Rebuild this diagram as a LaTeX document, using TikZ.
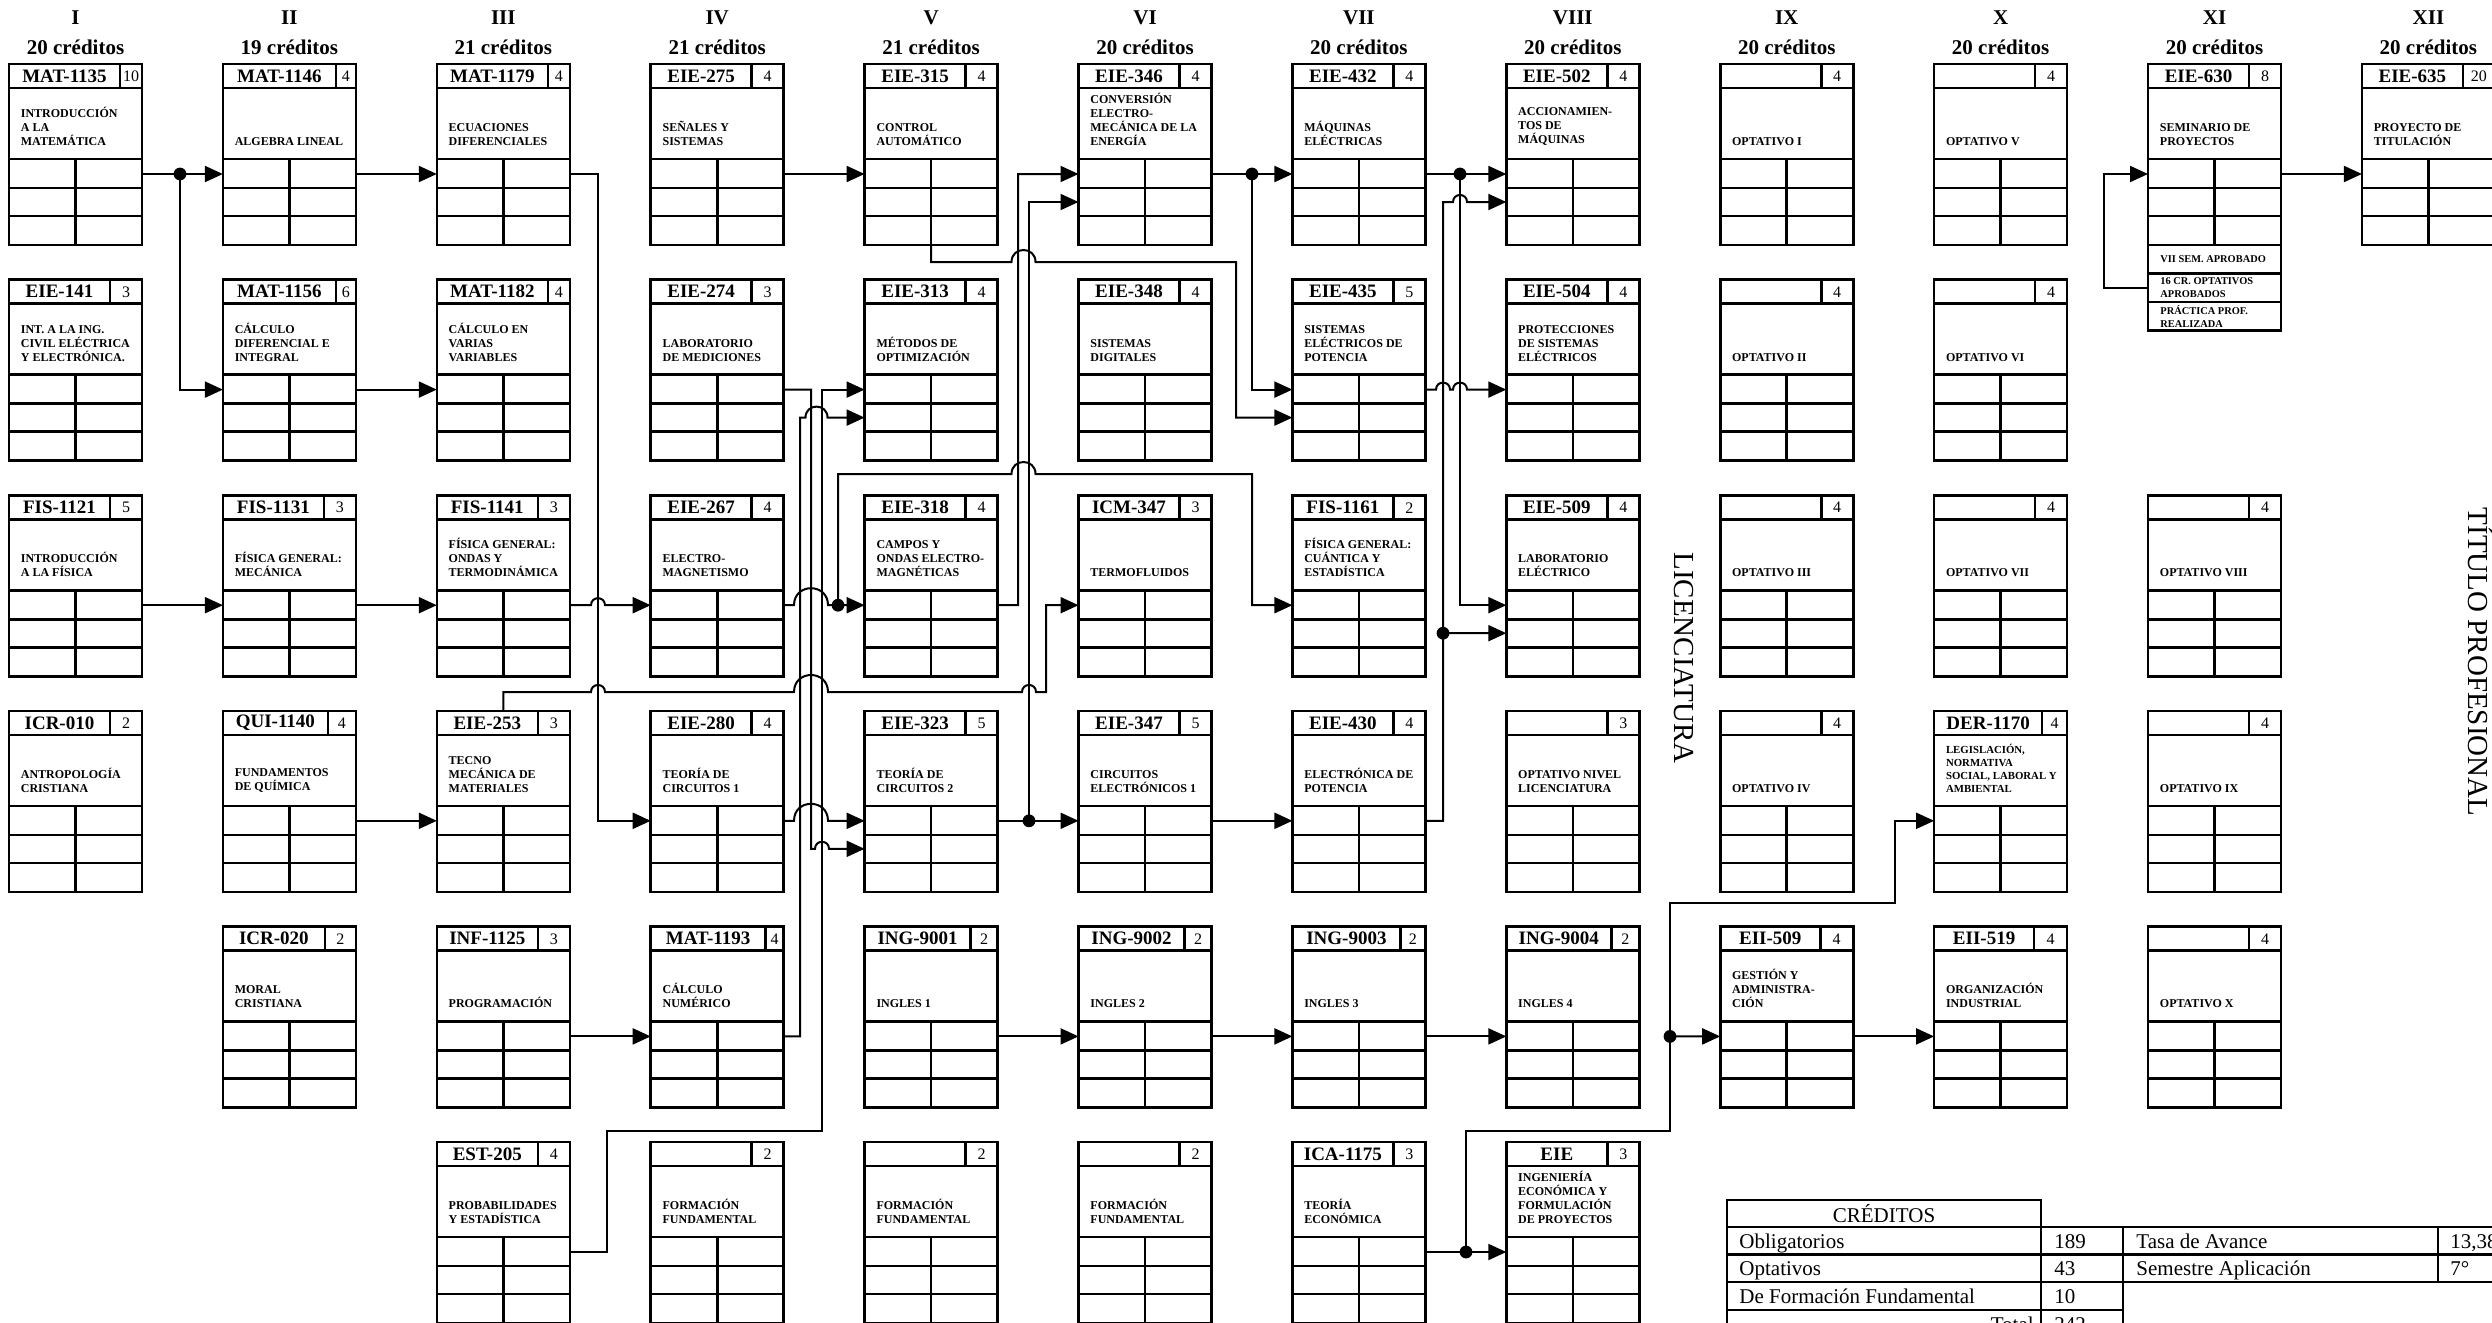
\documentclass[tikz,border=0pt]{standalone}
\usepackage{fontspec}
\setmainfont{Liberation Serif}
\usetikzlibrary{arrows.meta}

\tikzset{
  boxline/.style={line width=1.3pt},
  coursebox/.style={draw, line width=1.3pt, minimum width=66.5pt, minimum height=90.5pt, inner sep=0pt, outer sep=0pt},
  ln/.style={line width=1pt},
  arr/.style={line width=1pt, -{Triangle[length=9pt,width=8pt]}},
  codetxt/.style={font=\bfseries\fontsize{9.5}{11}\selectfont, inner sep=0pt},
  credtxt/.style={font=\fontsize{8}{9}\selectfont, inner sep=0pt},
  ttltxt/.style={font=\bfseries\fontsize{6}{7}\selectfont, inner sep=0pt, align=left, anchor=south west},
  reqtxt/.style={font=\bfseries\fontsize{5.2}{6.3}\selectfont, inner sep=0pt, align=left, anchor=west},
  hdrtxt/.style={font=\bfseries\fontsize{10.5}{12}\selectfont, inner sep=0pt},
  tbltxt/.style={font=\fontsize{10.5}{12}\selectfont, inner sep=0pt, anchor=base west},
  vlabel/.style={font=\fontsize{14.5}{16}\selectfont, rotate=-90, anchor=base, inner sep=0pt},
  dot/.style={circle, fill, inner sep=0pt, minimum size=6.4pt}
}

% line hop over vertical line(s): centre x, y, half width, height
\newcommand\hop[4]{-- ({#1-#3},#2) .. controls ({#1-#3},{#2-1.333*#4}) and ({#1+#3},{#2-1.333*#4}) .. ({#1+#3},#2)}

% course box: name, column, row, code, credits, title, credit-cell width (px)
\newcommand\crs[7]{%
  \pgfmathsetmacro\crsL{9+213.9*#2}%
  \pgfmathsetmacro\crsT{64+215.6*#3}%
  \pgfmathsetmacro\crsR{\crsL+133}%
  \pgfmathsetmacro\crsM{\crsL+66.5}%
  \pgfmathsetmacro\crsC{\crsR-#7}%
  \node[coursebox] (#1) at (\crsM,{\crsT+90.5}) {};
  \draw[boxline] (\crsL,{\crsT+24}) -- (\crsR,{\crsT+24})
    (\crsC,\crsT) -- (\crsC,{\crsT+24})
    (\crsL,{\crsT+95}) -- (\crsR,{\crsT+95})
    (\crsL,{\crsT+124}) -- (\crsR,{\crsT+124})
    (\crsL,{\crsT+152}) -- (\crsR,{\crsT+152})
    (\crsM,{\crsT+95}) -- (\crsM,{\crsT+181});
  \node[codetxt] (#1-code) at ({(\crsL+\crsC)/2},{\crsT+12}) {#4};
  \node[credtxt] (#1-cr) at ({(\crsC+\crsR)/2},{\crsT+12.5}) {#5};
  \node[ttltxt] (#1-t) at ({\crsL+11.5},{\crsT+82}) {#6};
  \coordinate (#1-i1) at (\crsL,{\crsT+110});
  \coordinate (#1-i2) at (\crsL,{\crsT+138});
  \coordinate (#1-o) at (\crsR,{\crsT+110});
}

\begin{document}
\begin{tikzpicture}[x=0.5pt,y=-0.5pt]
\useasboundingbox (0,0) rectangle (2492,1322);
\clip (0,0) rectangle (2492,1322);

% semester headers
\foreach \cc/\rn/\kk in {0/I/20,1/II/19,2/III/21,3/IV/21,4/V/21,5/VI/20,6/VII/20,7/VIII/20,8/IX/20,9/X/20,10/XI/20,11/XII/20}{
  \node[hdrtxt] (sem\cc) at ({75.5+213.9*\cc},18) {\rn};
  \node[hdrtxt] (cred\cc) at ({75.5+213.9*\cc},47) {\kk\ créditos};
}

% column I
\crs{mat1135}{0}{0}{MAT-1135}{10}{INTRODUCCIÓN\\A LA\\MATEMÁTICA}{22}
\crs{eie141}{0}{1}{EIE-141}{3}{INT. A LA ING.\\CIVIL ELÉCTRICA\\Y ELECTRÓNICA.}{32}
\crs{fis1121}{0}{2}{FIS-1121}{5}{INTRODUCCIÓN\\A LA FÍSICA}{32}
\crs{icr010}{0}{3}{ICR-010}{2}{ANTROPOLOGÍA\\CRISTIANA}{32}
% column II
\crs{mat1146}{1}{0}{MAT-1146}{4}{ALGEBRA LINEAL}{20}
\crs{mat1156}{1}{1}{MAT-1156}{6}{CÁLCULO\\DIFERENCIAL E\\INTEGRAL}{20}
\crs{fis1131}{1}{2}{FIS-1131}{3}{FÍSICA GENERAL:\\MECÁNICA}{32}
\crs{qui1140}{1}{3}{QUI-1140}{4}{FUNDAMENTOS\\DE QUÍMICA}{28}
\crs{icr020}{1}{4}{ICR-020}{2}{MORAL\\CRISTIANA}{31}
% column III
\crs{mat1179}{2}{0}{MAT-1179}{4}{ECUACIONES\\DIFERENCIALES}{22}
\crs{mat1182}{2}{1}{MAT-1182}{4}{CÁLCULO EN\\VARIAS\\VARIABLES}{22}
\crs{fis1141}{2}{2}{FIS-1141}{3}{FÍSICA GENERAL:\\ONDAS Y\\TERMODINÁMICA}{32}
\crs{eie253}{2}{3}{EIE-253}{3}{TECNO\\MECÁNICA DE\\MATERIALES}{32}
\crs{inf1125}{2}{4}{INF-1125}{3}{PROGRAMACIÓN}{32}
\crs{est205}{2}{5}{EST-205}{4}{PROBABILIDADES\\Y ESTADÍSTICA}{32}
% column IV
\crs{eie275}{3}{0}{EIE-275}{4}{SEÑALES Y\\SISTEMAS}{32}
\crs{eie274}{3}{1}{EIE-274}{3}{LABORATORIO\\DE MEDICIONES}{32}
\crs{eie267}{3}{2}{EIE-267}{4}{ELECTRO-\\MAGNETISMO}{32}
\crs{eie280}{3}{3}{EIE-280}{4}{TEORÍA DE\\CIRCUITOS 1}{32}
\crs{mat1193}{3}{4}{MAT-1193}{4}{CÁLCULO\\NUMÉRICO}{18}
\crs{ff1}{3}{5}{}{2}{FORMACIÓN\\FUNDAMENTAL}{32}
% column V
\crs{eie315}{4}{0}{EIE-315}{4}{CONTROL\\AUTOMÁTICO}{32}
\crs{eie313}{4}{1}{EIE-313}{4}{MÉTODOS DE\\OPTIMIZACIÓN}{32}
\crs{eie318}{4}{2}{EIE-318}{4}{CAMPOS Y\\ONDAS ELECTRO-\\MAGNÉTICAS}{32}
\crs{eie323}{4}{3}{EIE-323}{5}{TEORÍA DE\\CIRCUITOS 2}{32}
\crs{ing9001}{4}{4}{ING-9001}{2}{INGLES 1}{27}
\crs{ff2}{4}{5}{}{2}{FORMACIÓN\\FUNDAMENTAL}{32}
% column VI
\crs{eie346}{5}{0}{EIE-346}{4}{CONVERSIÓN\\ELECTRO-\\MECÁNICA DE LA\\ENERGÍA}{32}
\crs{eie348}{5}{1}{EIE-348}{4}{SISTEMAS\\DIGITALES}{32}
\crs{icm347}{5}{2}{ICM-347}{3}{TERMOFLUIDOS}{32}
\crs{eie347}{5}{3}{EIE-347}{5}{CIRCUITOS\\ELECTRÓNICOS 1}{32}
\crs{ing9002}{5}{4}{ING-9002}{2}{INGLES 2}{27}
\crs{ff3}{5}{5}{}{2}{FORMACIÓN\\FUNDAMENTAL}{32}
% column VII
\crs{eie432}{6}{0}{EIE-432}{4}{MÁQUINAS\\ELÉCTRICAS}{32}
\crs{eie435}{6}{1}{EIE-435}{5}{SISTEMAS\\ELÉCTRICOS DE\\POTENCIA}{32}
\crs{fis1161}{6}{2}{FIS-1161}{2}{FÍSICA GENERAL:\\CUÁNTICA Y\\ESTADÍSTICA}{32}
\crs{eie430}{6}{3}{EIE-430}{4}{ELECTRÓNICA DE\\POTENCIA}{32}
\crs{ing9003}{6}{4}{ING-9003}{2}{INGLES 3}{25}
\crs{ica1175}{6}{5}{ICA-1175}{3}{TEORÍA\\ECONÓMICA}{32}
% column VIII
\crs{eie502}{7}{0}{EIE-502}{4}{ACCIONAMIEN-\\TOS DE\\MÁQUINAS}{32}
\crs{eie504}{7}{1}{EIE-504}{4}{PROTECCIONES\\DE SISTEMAS\\ELÉCTRICOS}{32}
\crs{eie509}{7}{2}{EIE-509}{4}{LABORATORIO\\ELÉCTRICO}{32}
\crs{optlic}{7}{3}{}{3}{OPTATIVO NIVEL\\LICENCIATURA}{32}
\crs{ing9004}{7}{4}{ING-9004}{2}{INGLES 4}{28}
\crs{eie}{7}{5}{EIE}{3}{INGENIERÍA\\ECONÓMICA Y\\FORMULACIÓN\\DE PROYECTOS}{32}
% column IX
\crs{opt1}{8}{0}{}{4}{OPTATIVO I}{32}
\crs{opt2}{8}{1}{}{4}{OPTATIVO II}{32}
\crs{opt3}{8}{2}{}{4}{OPTATIVO III}{32}
\crs{opt4}{8}{3}{}{4}{OPTATIVO IV}{32}
\crs{eii509}{8}{4}{EII-509}{4}{GESTIÓN Y\\ADMINISTRA-\\CIÓN}{33}
% column X
\crs{opt5}{9}{0}{}{4}{OPTATIVO V}{32}
\crs{opt6}{9}{1}{}{4}{OPTATIVO VI}{32}
\crs{opt7}{9}{2}{}{4}{OPTATIVO VII}{32}
\begin{scope}[ttltxt/.append style={font=\bfseries\fontsize{5.4}{6.5}\selectfont}]
\crs{der1170}{9}{3}{DER-1170}{4}{LEGISLACIÓN,\\NORMATIVA\\SOCIAL, LABORAL Y\\AMBIENTAL}{25}
\end{scope}
\crs{eii519}{9}{4}{EII-519}{4}{ORGANIZACIÓN\\INDUSTRIAL}{33}
% column XI
\crs{eie630}{10}{0}{EIE-630}{8}{SEMINARIO DE\\PROYECTOS}{32}
\crs{opt8}{10}{2}{}{4}{OPTATIVO VIII}{32}
\crs{opt9}{10}{3}{}{4}{OPTATIVO IX}{32}
\crs{opt10}{10}{4}{}{4}{OPTATIVO X}{32}
% column XII
\crs{eie635}{11}{0}{EIE-635}{20}{PROYECTO DE\\TITULACIÓN}{32}

% requirements under EIE-630
\draw[boxline] (eie630.south west) rectangle ++(133,85.5);
\draw[boxline] (2148,273.5) -- (2281,273.5) (2148,302) -- (2281,302);
\node[reqtxt] (req1) at (2160,259.25) {VII SEM. APROBADO};
\node[reqtxt] (req2) at (2160,287.75) {16 CR. OPTATIVOS\\APROBADOS};
\node[reqtxt] (req3) at (2160,316.25) {PRÁCTICA PROF.\\REALIZADA};
\coordinate (eie630-fb) at (2148,287.75);

% vertical labels
\node[vlabel] (lic) at (1674,658) {LICENCIATURA};
\node[vlabel] (tit) at (2468,662) {TÍTULO PROFESIONAL};

% junction dots
\node[dot] (j1) at (180,174) {};
\node[dot] (j2) at (838,605.2) {};
\node[dot] (j3) at (1029,820.8) {};
\node[dot] (j4) at (1252,174) {};
\node[dot] (j5) at (1460,174) {};
\node[dot] (j6) at (1443,633.2) {};
\node[dot] (j7) at (1466,1252) {};
\node[dot] (j8) at (1670,1036.4) {};

% connectors
\draw[arr] (mat1135-o) -- (mat1146-i1);
\draw[arr] (j1.center) |- (mat1156-i1);
\draw[arr] (mat1146-o) -- (mat1179-i1);
\draw[arr] (mat1156-o) -- (mat1182-i1);
\draw[arr] (mat1179-o) -- (598,174) |- (eie280-i1);
\draw[arr] (fis1121-o) -- (fis1131-i1);
\draw[arr] (fis1131-o) -- (fis1141-i1);
\draw[arr] (fis1141-o) \hop{598}{605.2}{7}{7} -- (eie267-i1);
\draw[arr] (qui1140-o) -- (eie253-i1);
\draw[arr] (eie253.north) -- ++(0,-18.8) \hop{598}{692}{7}{7} \hop{811}{692}{17}{17} \hop{1029}{692}{7}{7} -- (1046,692) |- (icm347-i1);
\draw[arr] (mat1193-o) -- (800,1036.4) -- (800,417.6) \hop{816.5}{417.6}{11}{11} -- (eie313-i2);
\draw[arr] (eie274-o) -- (811,389.6) -- (811,848.8) \hop{822}{848.8}{7}{7} -- (eie323-i2);
\draw[arr] (est205-o) -- (607,1252) -- (607,1131) -- (822,1131) -- (822,389.6) -- (eie313-i1);
\draw[arr] (eie267-o) \hop{811}{605.2}{17}{17} -- (eie318-i1);
\draw[arr] (j2.center) -- (838,474) \hop{1023.5}{474}{12}{12} -- (1252,474) |- (fis1161-i1);
\draw[arr] (eie280-o) \hop{811}{820.8}{17}{17} -- (eie323-i1);
\draw[arr] (eie275-o) -- (eie315-i1);
\draw[arr] (eie315.south) -- ++(0,17) \hop{1023.5}{262}{12}{12} -- (1236,262) |- (eie435-i2);
\draw[arr] (eie318-o) -- (1018,605.2) |- (eie346-i1);
\draw[arr] (eie323-o) -- (eie347-i1);
\draw[arr] (j3.center) |- (eie346-i2);
\draw[arr] (eie346-o) -- (eie432-i1);
\draw[arr] (j4.center) |- (eie435-i1);
\draw[arr] (eie347-o) -- (eie430-i1);
\draw[arr] (eie432-o) -- (eie502-i1);
\draw[arr] (j5.center) |- (eie509-i1);
\draw[arr] (eie435-o) \hop{1443}{389.6}{7}{7} \hop{1460}{389.6}{7}{7} -- (eie504-i1);
\draw[arr] (eie430-o) -- (1443,820.8) -- (1443,202) \hop{1460}{202}{7}{7} -- (eie502-i2);
\draw[arr] (j6.center) -- (eie509-i2);
\draw[arr] (inf1125-o) -- (mat1193-i1);
\draw[arr] (ing9001-o) -- (ing9002-i1);
\draw[arr] (ing9002-o) -- (ing9003-i1);
\draw[arr] (ing9003-o) -- (ing9004-i1);
\draw[arr] (ica1175-o) -- (eie-i1);
\draw[arr] (j7.center) -- (1466,1131) -- (1670,1131) -- (1670,903) -- (1895,903) |- (der1170-i1);
\draw[arr] (j8.center) -- (eii509-i1);
\draw[arr] (eii509-o) -- (eii519-i1);
\draw[arr] (eie630-o) -- (eie635-i1);
\draw[arr] (eie630-fb) -- (2104,287.75) |- (eie630-i1);

% credits table
\draw[boxline] (1727,1200) rectangle (2041,1227);
\draw[boxline] (1727,1227) rectangle (2123,1338);
\draw[boxline] (1727,1254.5) -- (2123,1254.5) (1727,1282) -- (2123,1282) (1727,1310) -- (2123,1310) (2041,1227) -- (2041,1338);
\draw[boxline] (2123,1227) rectangle (2530,1282);
\draw[boxline] (2123,1254.5) -- (2530,1254.5) (2438,1227) -- (2438,1282);
\node[font=\fontsize{10.5}{12}\selectfont, inner sep=0pt] (tcred) at (1884,1213.5) {CRÉDITOS};
\node[tbltxt] (tob) at (1739,1248) {Obligatorios};
\node[tbltxt] (tobv) at (2054,1248) {189};
\node[tbltxt] (top) at (1739,1275.5) {Optativos};
\node[tbltxt] (topv) at (2054,1275.5) {43};
\node[tbltxt] (tff) at (1739,1303) {De Formación Fundamental};
\node[tbltxt] (tffv) at (2054,1303) {10};
\node[tbltxt, anchor=base east] (ttot) at (2034,1331) {Total};
\node[tbltxt] (ttotv) at (2054,1331) {242};
\node[tbltxt] (tta) at (2136,1248) {Tasa de Avance};
\node[tbltxt] (ttav) at (2450,1248) {13,38};
\node[tbltxt] (tsa) at (2136,1275.5) {Semestre Aplicación};
\node[tbltxt] (tsav) at (2450,1275.5) {7°};
\end{tikzpicture}
\end{document}
